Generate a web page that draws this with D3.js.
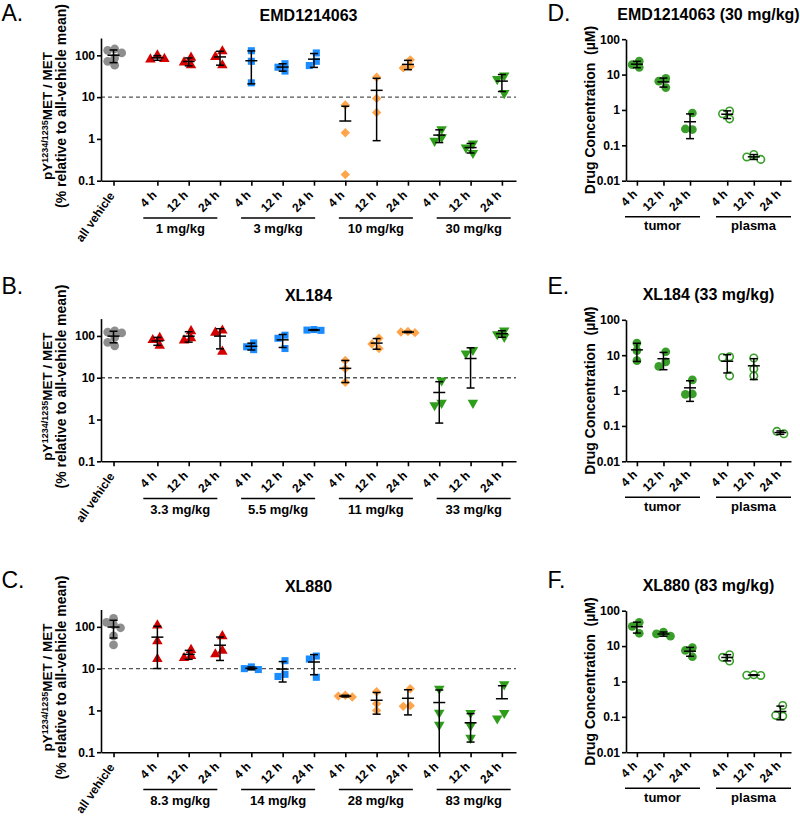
<!doctype html>
<html>
<head>
<style>
  body { margin: 0; background: #fff; }
  svg text { font-family: "Liberation Sans", Arial, sans-serif; fill: #000; }
  .axis path, .axis line { stroke: #000; stroke-width: 1.6; }
  .axis text { font-size: 12px; font-weight: bold; }
  .xlab { font-size: 12px; font-weight: bold; }
</style>
<script src="https://d3js.org/d3.v7.min.js"></script>
</head>
<body>
<svg width="800" height="821"></svg>
<script>
// ---------- data ----------
var timeLabels = ["4 h", "12 h", "24 h"];

// A. EMD1214063 - pY1234/1235 MET / MET, % of all-vehicle mean
var emdTitle = "EMD1214063";
var emdDoses = ["1 mg/kg", "3 mg/kg", "10 mg/kg", "30 mg/kg"];
var emdVehicle = [142, 132, 114, 86, 72, 58];
var emdPMet = [
  [100, 80, 82], [88, 68, 58], [125, 92, 58],
  [129, 72, 22], [63, 52, 42], [114, 72, 57],
  [6.5, 1.4, 0.14], [30, 9.3, 4.3], [78, 54, 50],
  [1.7, 1.1, 0.9], [0.78, 0.62, 0.46], [33, 27, 12.5]
];

// B. XL184
var xl184Title = "XL184";
var xl184Doses = ["3.3 mg/kg", "5.5 mg/kg", "11 mg/kg", "33 mg/kg"];
var xl184Vehicle = [132, 124, 118, 92, 70, 58];
var xl184PMet = [
  [90, 80, 58], [130, 88, 78], [135, 120, 42],
  [68, 55, 47], [104, 88, 50], [142, 138, 136],
  [26, 16.5, 7.8], [88, 64, 50], [128, 124, 120],
  [8.6, 2.5, 2.2], [46, 38, 2.5], [135, 110, 95]
];

// C. XL880
var xl880Title = "XL880";
var xl880Doses = ["8.3 mg/kg", "14 mg/kg", "28 mg/kg", "83 mg/kg"];
var xl880Vehicle = [160, 128, 112, 95, 61, 37];
var xl880PMet = [
  [108, 45, 17], [28, 20, 18], [60, 27, 22],
  [11, 10, 9.5], [15.5, 7.3, 6.5], [20, 17, 6.2],
  [2.3, 2.2, 2.1], [2.8, 1.45, 1.0], [3.3, 1.3, 1.25],
  [3.3, 0.88, 0.45], [0.87, 0.43, 0.22], [4.2, 0.87, 0.64]
];

// D-F. drug concentration (uM), tumor 4/12/24 h then plasma 4/12/24 h
var tissues = ["tumor", "plasma"];
var emdConcTitle = "EMD1214063 (30 mg/kg)";
var emdConc = [[24, 19, 16], [7.8, 6.5, 4.3], [0.82, 0.28, 0.29],
               [0.93, 0.78, 0.56], [0.055, 0.047, 0.04], []];
var xl184ConcTitle = "XL184 (33 mg/kg)";
var xl184Conc = [[22, 13.5, 7], [12.5, 6.5, 4.8], [2.0, 0.8, 0.78],
                 [9, 8.6, 2.6], [8.3, 4.1, 2.6], [0.06, 0.07]];
var xl880ConcTitle = "XL880 (83 mg/kg)";
var xl880Conc = [[47, 36, 23], [25, 22, 19], [9, 7.5, 5],
                 [5.7, 4.8, 3.8], [1.55, 1.5, 1.48], [0.21, 0.105, 0.11]];

// ---------- layout ----------
var svg = d3.select("svg");
var rowBottom = [180.7, 461.3, 752.2];
var letterY = [20.5, 294, 587.5];

// marker look for each dose group
var doseStyle = [
  { type: d3.symbolTriangle, size: 48, fill: "#d40000", rot: 0 },
  { type: d3.symbolSquare, size: 50, fill: "#1a8cff", rot: 0 },
  { type: d3.symbolSquare, size: 44, fill: "#ffa64d", rot: 45 },
  { type: d3.symbolTriangle, size: 48, fill: "#2e9e1a", rot: 180 }
];

// spread overlapping points sideways, like a column scatter
function dodge(ys, step) {
  var placed = [];
  ys.forEach(function(py) {
    var tries = [0, -1, 1, -2, 2, -3, 3];
    for (var i = 0; i < tries.length; i++) {
      var dx = tries[i] * step;
      var hit = placed.some(function(p) {
        return Math.abs(p.dx - dx) < step * 0.9 && Math.abs(p.y - py) < 6;
      });
      if (!hit) { placed.push({ dx: dx, y: py }); break; }
    }
  });
  var shift = d3.mean(placed, function(p) { return p.dx; }) || 0;
  return placed.map(function(p) { return p.dx - shift; });
}

// mean +/- SD error bar, Prism style on a log axis
function errorBar(g, cx, vals, y, dom) {
  if (!vals.length) return;
  var m = d3.mean(vals), sd = vals.length > 1 ? d3.deviation(vals) : 0;
  var eb = g.append("g").attr("stroke", "#000").attr("stroke-width", 1.5);
  eb.append("line").attr("x1", cx - 6).attr("x2", cx + 6)
    .attr("y1", y(m)).attr("y2", y(m));
  if (!sd) return;
  var hi = m + sd, lo = m - sd;
  eb.append("line").attr("x1", cx).attr("x2", cx)
    .attr("y1", y(m)).attr("y2", y(Math.min(hi, dom[1])));
  if (hi <= dom[1]) {
    eb.append("line").attr("x1", cx - 4).attr("x2", cx + 4)
      .attr("y1", y(hi)).attr("y2", y(hi));
  }
  if (lo > 0) {
    eb.append("line").attr("x1", cx).attr("x2", cx)
      .attr("y1", y(m)).attr("y2", y(Math.max(lo, dom[0])));
    if (lo >= dom[0]) {
      eb.append("line").attr("x1", cx - 4).attr("x2", cx + 4)
        .attr("y1", y(lo)).attr("y2", y(lo));
    }
  }
}

function drawPoints(g, cx, vals, y, style) {
  var offs = dodge(vals.map(y), 7);
  g.selectAll(null)
    .data(vals)
    .enter().append("path")
    .attr("d", d3.symbol().type(style.type).size(style.size))
    .attr("transform", function(d, i) {
      return "translate(" + (cx + offs[i]) + "," + y(d) + ") rotate(" + (style.rot || 0) + ")";
    })
    .attr("fill", style.fill)
    .attr("stroke", style.stroke || "none")
    .attr("stroke-width", style.strokeWidth || 0);
}

// slanted category label, its end sits just under the tick
function slantLabel(g, px, py, angle, txt) {
  g.append("text").attr("class", "xlab")
    .attr("text-anchor", "end")
    .attr("transform", "translate(" + px + "," + py + ") rotate(" + angle + ")")
    .text(txt);
}

function panelLetter(x, row, letter) {
  svg.append("text").attr("x", x).attr("y", letterY[row])
    .style("font-size", "23px").text(letter);
}

// ---------- left panels (pMET) ----------
function leftPanel(row, letter, title, doses, vehicle, cols) {
  var bottom = rowBottom[row];
  var dom = [0.1, 260];
  var y = d3.scaleLog().domain(dom).range([bottom, bottom - 142.7]);
  var x = d3.scaleLinear().domain([-0.4, 12.85]).range([101, 516]);
  var colPos = cols.map(function(c, j) { return 1.4 + j; });
  var g = svg.append("g");

  panelLetter(1.5, row, letter);

  g.append("text").attr("x", 308.5).attr("y", bottom - 160)
    .attr("text-anchor", "middle")
    .style("font-size", "16px").style("font-weight", "bold").text(title);

  // threshold line at 10 %
  g.append("line").attr("x1", x.range()[0]).attr("x2", x.range()[1])
    .attr("y1", y(10)).attr("y2", y(10))
    .attr("stroke", "#555").attr("stroke-width", 1.3).attr("stroke-dasharray", "4,3");

  // y axis
  g.append("g").attr("class", "axis")
    .attr("transform", "translate(101,0)")
    .call(d3.axisLeft(y).tickValues([0.1, 1, 10, 100]).tickFormat(String)
      .tickSize(4).tickSizeOuter(0).tickPadding(2));

  // y label (two lines)
  var t1 = g.append("text")
    .attr("transform", "translate(" + (101 - 48.7) + "," + (bottom - 64.7) + ") rotate(-90)")
    .attr("text-anchor", "middle")
    .style("font-size", "13.5px").style("font-weight", "bold");
  t1.append("tspan").text("pY");
  t1.append("tspan").attr("dy", "-0.45em").style("font-size", "9px").text("1234/1235");
  t1.append("tspan").attr("dy", "0.3em").text("MET / MET");
  g.append("text")
    .attr("transform", "translate(" + (101 - 35) + "," + (bottom - 74.7) + ") rotate(-90)")
    .attr("text-anchor", "middle")
    .style("font-size", "14px").style("font-weight", "bold")
    .text("(% relative to all-vehicle mean)");

  // x axis
  g.append("g").attr("class", "axis")
    .attr("transform", "translate(0," + bottom + ")")
    .call(d3.axisBottom(x).tickValues([0].concat(colPos)).tickFormat("")
      .tickSize(5).tickSizeOuter(0));
  slantLabel(g, x(0) + 1.5, bottom + 15, -55, "all vehicle");
  colPos.forEach(function(p, j) {
    slantLabel(g, x(p), bottom + 15, -45, timeLabels[j % 3]);
  });

  // dose group underlines and labels
  var gx = d3.scaleBand().domain(doses).range([143.3, 510.7]).paddingInner(0.243);
  doses.forEach(function(d) {
    g.append("line").attr("x1", gx(d)).attr("x2", gx(d) + gx.bandwidth())
      .attr("y1", bottom + 37.3).attr("y2", bottom + 37.3)
      .attr("stroke", "#000").attr("stroke-width", 1.5);
    g.append("text").attr("x", gx(d) + gx.bandwidth() / 2).attr("y", bottom + 52.3)
      .attr("text-anchor", "middle")
      .style("font-size", "13px").style("font-weight", "bold").text(d);
  });

  // points
  drawPoints(g, x(0), vehicle, y, { type: d3.symbolCircle, size: 60, fill: "#8e8e8e" });
  cols.forEach(function(vals, j) {
    drawPoints(g, x(colPos[j]), vals, y, doseStyle[Math.floor(j / 3)]);
  });
  // mean +/- SD
  errorBar(g, x(0), vehicle, y, dom);
  cols.forEach(function(vals, j) { errorBar(g, x(colPos[j]), vals, y, dom); });
}

// ---------- right panels (drug concentration) ----------
function rightPanel(row, letter, title, cols) {
  var bottom = rowBottom[row];
  var dom = [0.01, 100];
  var y = d3.scaleLog().domain(dom).range([bottom, bottom - 141.5]);
  var x = d3.scaleLinear().domain([-0.41, 5.8]).range([626, 791]);
  var colPos = [0, 1, 2, 3.4, 4.4, 5.4];
  var g = svg.append("g");

  panelLetter(547.5, row, letter);

  g.append("text").attr("x", 708.5).attr("y", bottom - 161)
    .attr("text-anchor", "middle")
    .style("font-size", "16px").style("font-weight", "bold").text(title);

  g.append("g").attr("class", "axis")
    .attr("transform", "translate(626,0)")
    .call(d3.axisLeft(y).tickValues([0.01, 0.1, 1, 10, 100]).tickFormat(String)
      .tickSize(4).tickSizeOuter(0).tickPadding(2));

  g.append("text")
    .attr("transform", "translate(" + (626 - 31.5) + "," + (bottom - 70.7) + ") rotate(-90)")
    .attr("text-anchor", "middle")
    .style("font-size", "14px").style("font-weight", "bold")
    .text("Drug Concentration\u00a0 (\u00b5M)");

  g.append("g").attr("class", "axis")
    .attr("transform", "translate(0," + bottom + ")")
    .call(d3.axisBottom(x).tickValues(colPos).tickFormat("")
      .tickSize(5).tickSizeOuter(0));
  colPos.forEach(function(p, j) {
    slantLabel(g, x(p) + 1, bottom + 14, -45, timeLabels[j % 3]);
  });

  var gx = d3.scaleBand().domain(tissues).range([625, 791]).paddingInner(0.176);
  tissues.forEach(function(d) {
    g.append("line").attr("x1", gx(d)).attr("x2", gx(d) + gx.bandwidth())
      .attr("y1", bottom + 36).attr("y2", bottom + 36)
      .attr("stroke", "#000").attr("stroke-width", 1.5);
    g.append("text").attr("x", gx(d) + gx.bandwidth() / 2).attr("y", bottom + 49.5)
      .attr("text-anchor", "middle")
      .style("font-size", "13px").style("font-weight", "bold").text(d);
  });

  var tumorStyle = { type: d3.symbolCircle, size: 60, fill: "#3a9f2a" };
  var plasmaStyle = { type: d3.symbolCircle, size: 44, fill: "#fff", stroke: "#3a9f2a", strokeWidth: 1.6 };
  cols.forEach(function(vals, j) {
    drawPoints(g, x(colPos[j]), vals, y, j < 3 ? tumorStyle : plasmaStyle);
  });
  cols.forEach(function(vals, j) { errorBar(g, x(colPos[j]), vals, y, dom); });
}

leftPanel(0, "A.", emdTitle, emdDoses, emdVehicle, emdPMet);
leftPanel(1, "B.", xl184Title, xl184Doses, xl184Vehicle, xl184PMet);
leftPanel(2, "C.", xl880Title, xl880Doses, xl880Vehicle, xl880PMet);
rightPanel(0, "D.", emdConcTitle, emdConc);
rightPanel(1, "E.", xl184ConcTitle, xl184Conc);
rightPanel(2, "F.", xl880ConcTitle, xl880Conc);
</script>
</body>
</html>
